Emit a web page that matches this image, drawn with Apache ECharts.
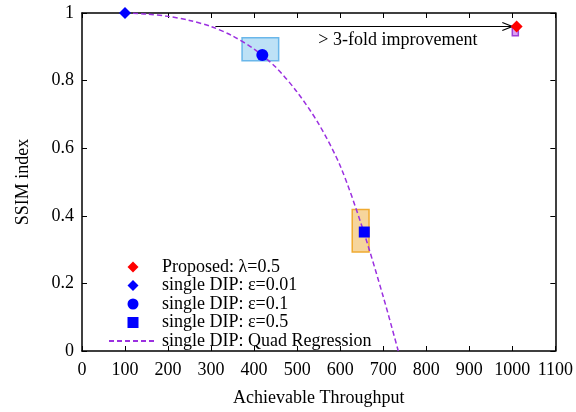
<!DOCTYPE html>
<html>
<head>
<meta charset="utf-8">
<script src="https://cdn.jsdelivr.net/npm/echarts@6/dist/echarts.min.js"></script>
<style>html,body{margin:0;padding:0;background:#fff;}#c{width:576px;height:412px;}</style>
</head>
<body>
<div id="c"></div>
<script>
// ---- data ----
const xTicks = [0, 1100, 100];          // min, max, interval
const yTicks = [0, 1, 0.2];
const proposed = [[1010, 0.96]];        // Proposed: λ=0.5
const dip001 = [[100, 1.0]];            // ε=0.01
const dip01 = [[419, 0.876]];           // ε=0.1
const dip05 = [[656, 0.352]];           // ε=0.5
const quadX = [100, 150, 200, 250, 300, 350, 400, 450, 500, 550, 600, 650, 700, 735];
const quadY = [1.0, 0.997, 0.990, 0.978, 0.960, 0.932, 0.893, 0.840, 0.766, 0.672, 0.548, 0.371, 0.161, 0.0];
// range boxes: [xmin, xmax, ymin, ymax]
const boxBlue = [372, 457, 0.859, 0.927];
const boxOrange = [628, 667, 0.293, 0.419];
const boxPurple = [1000, 1014, 0.933, 0.962];
// annotation
const arrowFrom = [310, 0.96];
const arrowTo = [1000, 0.96];
const noteText = '> 3-fold improvement';
const notePos = [734, 0.918];
const names = ['Proposed: λ=0.5', 'single DIP: ε=0.01', 'single DIP: ε=0.1', 'single DIP: ε=0.5', 'single DIP: Quad Regression'];

const FONT = '"Liberation Serif", "DejaVu Serif", serif';
const DIAMOND = 'path://M5,0 L10,5 L5,10 L0,5 Z';
const SQUARE = 'path://M0,0 L10,0 L10,10 L0,10 Z';
const chart = echarts.init(document.getElementById('c'), null, {renderer: 'canvas'});

function boxSeries(box, fill, stroke) {
  return {
    type: 'custom', silent: true, z: 1,
    data: [box],
    encode: {x: [0, 1], y: [2, 3]},
    renderItem: function (params, api) {
      const p0 = api.coord([api.value(0), api.value(3)]);
      const p1 = api.coord([api.value(1), api.value(2)]);
      return {type: 'rect', shape: {x: p0[0], y: p0[1], width: p1[0] - p0[0], height: p1[1] - p0[1]},
        style: {fill: fill, stroke: stroke, lineWidth: 1.5}};
    }
  };
}

const axisCommon = {
  axisLine: {show: true, onZero: false, lineStyle: {color: '#000', width: 1.5}},
  axisTick: {show: true, inside: true, length: 5, lineStyle: {color: '#000', width: 1}},
  splitLine: {show: false}
};

const option = {
  animation: false,
  backgroundColor: '#fff',
  grid: {left: 82, right: 20, top: 13, bottom: 59, containLabel: false},
  textStyle: {fontFamily: FONT},
  xAxis: [
    Object.assign({type: 'value', min: xTicks[0], max: xTicks[1], interval: xTicks[2],
      name: 'Achievable Throughput', nameLocation: 'middle', nameGap: 38,
      nameTextStyle: {fontFamily: FONT, fontSize: 18, color: '#000'},
      axisLabel: {fontFamily: FONT, fontSize: 18, color: '#000', margin: 10, formatter: v => String(v)}}, axisCommon),
    Object.assign({type: 'value', position: 'top', min: xTicks[0], max: xTicks[1], interval: xTicks[2],
      axisLabel: {show: false}}, axisCommon)
  ],
  yAxis: [
    Object.assign({type: 'value', min: yTicks[0], max: yTicks[1], interval: yTicks[2],
      name: 'SSIM index', nameLocation: 'middle', nameGap: 50, nameRotate: 90,
      nameTextStyle: {fontFamily: FONT, fontSize: 18, color: '#000'},
      axisLabel: {fontFamily: FONT, fontSize: 18, color: '#000', margin: 8}}, axisCommon),
    Object.assign({type: 'value', position: 'right', min: yTicks[0], max: yTicks[1], interval: yTicks[2],
      axisLabel: {show: false}}, axisCommon)
  ],
  legend: {
    orient: 'vertical', left: 103, top: 253,
    itemWidth: 48, itemHeight: 11, itemGap: 0.5,
    symbolKeepAspect: true,
    data: [
      {name: names[0], icon: DIAMOND}, {name: names[1], icon: DIAMOND},
      {name: names[2], icon: 'circle'}, {name: names[3], icon: SQUARE},
      {name: names[4], itemStyle: {opacity: 0}}
    ],
    textStyle: {fontFamily: FONT, fontSize: 18, color: '#000', lineHeight: 18}
  },
  series: [
    boxSeries(boxBlue, 'rgba(135,200,238,0.55)', '#6ab7ea'),
    boxSeries(boxOrange, 'rgba(240,185,90,0.6)', '#f0aa30'),
    boxSeries(boxPurple, 'rgba(200,120,240,0.7)', '#a040d8'),
    {
      name: names[4], type: 'line', smooth: 0.3, symbol: 'none', z: 3,
      data: quadX.map((x, i) => [x, quadY[i]]),
      lineStyle: {color: '#9b30e0', width: 1.5, type: [5, 3]},
      itemStyle: {color: '#9b30e0'}
    },
    {
      type: 'custom', silent: true, z: 4,
      data: [[arrowFrom[0], arrowFrom[1], arrowTo[0], arrowTo[1]]],
      renderItem: function (params, api) {
        const a = api.coord([api.value(0), api.value(1)]);
        const b = api.coord([api.value(2), api.value(3)]);
        const L = 10, W = 4;
        return {type: 'group', children: [
          {type: 'line', shape: {x1: a[0], y1: a[1], x2: b[0], y2: b[1]}, style: {stroke: '#000', lineWidth: 1.2}},
          {type: 'polyline', shape: {points: [[b[0] - L, b[1] - W], [b[0], b[1]], [b[0] - L, b[1] + W]]},
            style: {stroke: '#000', lineWidth: 1.2, fill: null}}
        ]};
      }
    },
    {
      type: 'custom', silent: true, z: 4,
      data: [notePos],
      renderItem: function (params, api) {
        const p = api.coord([api.value(0), api.value(1)]);
        return {type: 'text', x: p[0], y: p[1],
          style: {text: noteText, fontFamily: FONT, fontSize: 18, fill: '#000', align: 'center', verticalAlign: 'middle'}};
      }
    },
    {name: names[0], type: 'scatter', z: 5, symbol: 'diamond', symbolSize: 12, data: proposed, itemStyle: {color: '#ff0000', opacity: 1}},
    {name: names[1], type: 'scatter', z: 5, symbol: 'diamond', symbolSize: 12, data: dip001, itemStyle: {color: '#0000ff', opacity: 1}},
    {name: names[2], type: 'scatter', z: 5, symbol: 'circle', symbolSize: 12, data: dip01, itemStyle: {color: '#0000ff', opacity: 1}},
    {name: names[3], type: 'scatter', z: 5, symbol: 'rect', symbolSize: 11, data: dip05, itemStyle: {color: '#0000ff', opacity: 1}}
  ]
};
chart.setOption(option);
</script>
</body>
</html>
